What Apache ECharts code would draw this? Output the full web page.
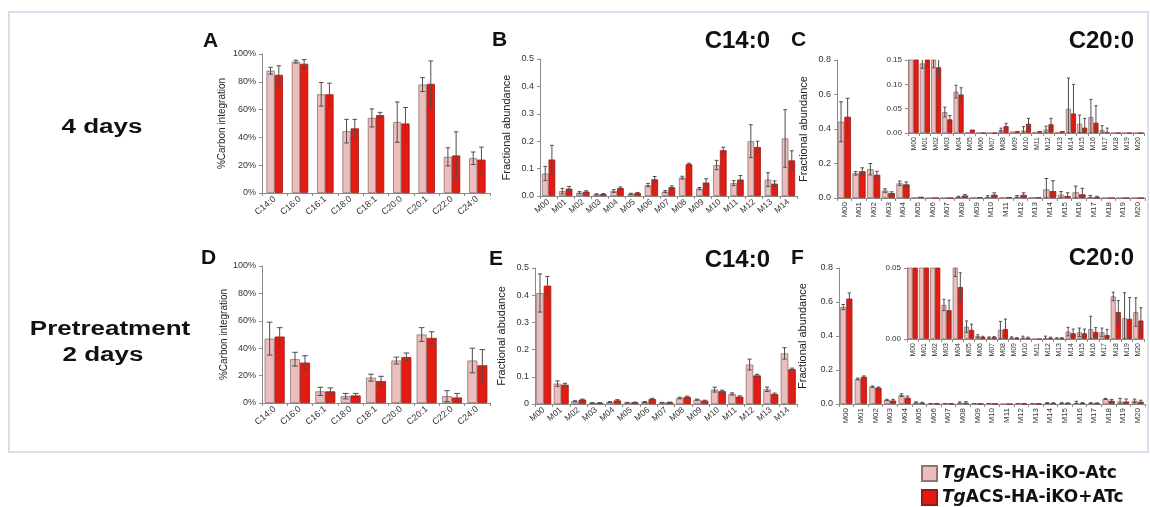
<!DOCTYPE html>
<html>
<head>
<meta charset="utf-8">
<script src="https://cdn.jsdelivr.net/npm/echarts@6/dist/echarts.min.js"></script>
<style>
  html, body { margin: 0; padding: 0; background: #fff; }
  #chart { width: 1150px; height: 507px; }
</style>
</head>
<body>
<div id="chart"></div>
<script>
// categories
const fattyAcids = ["C14:0", "C16:0", "C16:1", "C18:0", "C18:1", "C20:0", "C20:1", "C22:0", "C24:0"];
const isoC14 = ["M00", "M01", "M02", "M03", "M04", "M05", "M06", "M07", "M08", "M09", "M10", "M11", "M12", "M13", "M14"];
const isoC20 = ["M00", "M01", "M02", "M03", "M04", "M05", "M06", "M07", "M08", "M09", "M10",
	"M11", "M12", "M13", "M14", "M15", "M16", "M17", "M18", "M19", "M20"];

// A - 4 days, % carbon integration
const aMinus = [88, 94.5, 71, 44.5, 54, 51, 78, 26, 25];
const aMinusErr = [2.5, 1, 8.5, 8.5, 6.5, 14.5, 5, 6.5, 4.5];
const aPlus = [85, 93, 71, 46.5, 56, 50, 78.5, 27, 24];
const aPlusErr = [6.5, 3, 8, 6.5, 2, 11.5, 16.5, 17, 9];

// B - 4 days, C14:0 isotopologues
const bMinus = [0.082, 0.018, 0.012, 0.006, 0.018, 0.008, 0.04, 0.016, 0.067, 0.027, 0.113, 0.047, 0.2, 0.06, 0.21];
const bMinusErr = [0.026, 0.01, 0.004, 0.002, 0.005, 0.002, 0.006, 0.004, 0.005, 0.004, 0.017, 0.009, 0.06, 0.025, 0.105];
const bPlus = [0.133, 0.027, 0.016, 0.007, 0.029, 0.011, 0.061, 0.032, 0.116, 0.049, 0.167, 0.06, 0.179, 0.045, 0.13];
const bPlusErr = [0.052, 0.008, 0.003, 0.002, 0.004, 0.002, 0.01, 0.005, 0.004, 0.014, 0.011, 0.015, 0.021, 0.01, 0.035];

// C - 4 days, C20:0 isotopologues (inset shows the same values, zoomed)
const cMinus = [0.442, 0.143, 0.167, 0.043, 0.085, 0.001, 0, 0, 0.006, 0.003, 0.005, 0.002, 0.007, 0.002, 0.05, 0.019, 0.033, 0.006, 0, 0, 0];
const cMinusErr = [0.116, 0.01, 0.033, 0.01, 0.013, 0, 0, 0, 0.004, 0, 0.008, 0, 0.007, 0, 0.063, 0.018, 0.036, 0.009, 0, 0, 0];
const cPlus = [0.471, 0.155, 0.135, 0.028, 0.079, 0.007, 0, 0, 0.014, 0.004, 0.019, 0.004, 0.018, 0.004, 0.04, 0.011, 0.021, 0.002, 0, 0, 0];
const cPlusErr = [0.107, 0.02, 0.02, 0.008, 0.014, 0, 0, 0, 0.006, 0, 0.011, 0, 0.012, 0, 0.06, 0.019, 0.035, 0.008, 0, 0, 0];

// D - pretreatment 2 days, % carbon integration
const dMinus = [47, 32, 8.5, 5, 18.5, 31, 50, 5, 31];
const dMinusErr = [12, 5, 3, 2, 2.5, 2.5, 5, 4, 9];
const dPlus = [48.5, 29.5, 8.5, 5.5, 16, 33.5, 47.5, 4, 27.5];
const dPlusErr = [6.5, 5, 2.5, 1.5, 3.5, 3, 4.5, 3, 11.5];

// E - pretreatment 2 days, C14:0 isotopologues
const eMinus = [0.408, 0.075, 0.01, 0.004, 0.007, 0.005, 0.007, 0.005, 0.022, 0.016, 0.053, 0.037, 0.145, 0.054, 0.186];
const eMinusErr = [0.07, 0.01, 0.002, 0.001, 0.002, 0.001, 0.002, 0.001, 0.003, 0.002, 0.009, 0.004, 0.02, 0.008, 0.021];
const ePlus = [0.435, 0.071, 0.016, 0.004, 0.013, 0.006, 0.018, 0.006, 0.026, 0.012, 0.047, 0.027, 0.105, 0.036, 0.128];
const ePlusErr = [0.034, 0.005, 0.002, 0.001, 0.003, 0.001, 0.003, 0.001, 0.003, 0.002, 0.004, 0.003, 0.004, 0.004, 0.004];

// F - pretreatment 2 days, C20:0 isotopologues
const fMinus = [0.57, 0.147, 0.102, 0.024, 0.052, 0.0087, 0.002, 0.001, 0.0064, 0.001, 0.001, 0, 0.0005, 0.0004, 0.0052, 0.0047, 0.007, 0.0047, 0.03, 0.0146, 0.019];
const fMinusErr = [0.015, 0.005, 0.004, 0.004, 0.008, 0.004, 0.001, 0.0005, 0.006, 0.0005, 0.001, 0, 0.0015, 0.0005, 0.003, 0.003, 0.009, 0.003, 0.003, 0.018, 0.01];
const fPlus = [0.62, 0.16, 0.096, 0.0203, 0.0366, 0.0064, 0.0014, 0.0012, 0.007, 0.0005, 0.0008, 0, 0.0008, 0.0004, 0.004, 0.004, 0.005, 0.0028, 0.019, 0.0142, 0.013];
const fPlusErr = [0.033, 0.005, 0.004, 0.007, 0.01, 0.004, 0.0005, 0.0005, 0.007, 0.0005, 0.0005, 0, 0.0005, 0.0005, 0.003, 0.003, 0.003, 0.004, 0.008, 0.015, 0.009];

const nameMinus = "TgACS-HA-iKO-Atc";
const namePlus = "TgACS-HA-iKO+ATc";
const pink = "#ebbdbd";
const red = "#e41b10";
const font = "Liberation Sans, Arial, sans-serif";

const chart = echarts.init(document.getElementById("chart"));

// grids: A, B, C, C inset, D, E, F, F inset
const grids = [
	{left: 262, top: 54, width: 228, height: 139},
	{left: 540, top: 59, width: 257, height: 137},
	{left: 837, top: 60, width: 308, height: 138},
	{left: 908, top: 60, width: 236, height: 73},
	{left: 262, top: 266, width: 228, height: 137},
	{left: 535, top: 268, width: 262, height: 136},
	{left: 839, top: 268, width: 306, height: 136},
	{left: 907, top: 268, width: 237, height: 71},
].map((g) => ({...g, containLabel: false, outerBoundsMode: "none"}));

const axisLine = {show: true, lineStyle: {color: "#8a8a8a", width: 1}};
const axisTick = {show: true, length: 3, lineStyle: {color: "#8a8a8a"}};

function xAx(gridIndex, data, rotate, fontSize, margin) {
	return {
		type: "category", gridIndex, data,
		axisLine, axisTick,
		axisLabel: {interval: 0, rotate, fontSize, margin, color: "#333", fontFamily: font},
		splitLine: {show: false},
	};
}

function yAx(gridIndex, max, interval, fmt, fontSize, name, nameGap, nameSize) {
	return {
		type: "value", gridIndex, min: 0, max, interval,
		axisLine, axisTick,
		axisLabel: {fontSize, color: "#333", fontFamily: font, margin: 6, formatter: fmt},
		splitLine: {show: false},
		name, nameLocation: "middle", nameGap,
		nameTextStyle: {fontSize: nameSize, color: "#222", fontFamily: font},
	};
}

const pct = (v) => v + "%";
const d1 = (v) => v.toFixed(1);
const d2 = (v) => v.toFixed(2);

const xAxis = [
	xAx(0, fattyAcids, 40, 9, 5),
	xAx(1, isoC14, 40, 8.5, 5),
	xAx(2, isoC20, 90, 8, 4),
	xAx(3, isoC20, 90, 7, 4),
	xAx(4, fattyAcids, 40, 9, 5),
	xAx(5, isoC14, 40, 8.5, 5),
	xAx(6, isoC20, 90, 8, 4),
	xAx(7, isoC20, 90, 7, 4),
];

const yAxis = [
	yAx(0, 100, 20, pct, 9, "%Carbon integration", 35, 10),
	yAx(1, 0.5, 0.1, d1, 9, "Fractional abundance", 28, 11),
	yAx(2, 0.8, 0.2, d1, 9, "Fractional abundance", 28, 11),
	yAx(3, 0.15, 0.05, d2, 8, "", 0, 8),
	yAx(4, 100, 20, pct, 9, "%Carbon integration", 33, 10),
	yAx(5, 0.5, 0.1, null, 9, "Fractional abudance", 28, 11),
	yAx(6, 0.8, 0.2, d1, 9, "Fractional abundance", 31, 11),
	yAx(7, 0.05, 0.05, d2, 8, "", 0, 8),
];

// error bar drawn on top of one of the two bars in a category
function errorBars(idx, values, errors, side, gap) {
	return {
		type: "custom",
		name: "err",
		xAxisIndex: idx, yAxisIndex: idx,
		clip: true, z: 3, silent: true,
		data: values.map((v, i) => [i, v, errors[i]]),
		encode: {x: 0, y: 1},
		renderItem: (params, api) => {
			const i = api.value(0);
			const v = api.value(1);
			const e = api.value(2);
			if (!e) return {type: "group", children: []};
			const band = api.size([1, 0])[0];
			const bw = (band * (1 - gap)) / 2;
			const cx = api.coord([i, 0])[0] + (side * bw) / 2;
			const top = api.coord([i, v + e])[1];
			const bot = api.coord([i, Math.max(v - e, 0)])[1];
			const cap = Math.max(bw * 0.28, 1.5);
			const st = {stroke: "#4d4d4d", lineWidth: 1};
			return {
				type: "group",
				children: [
					{type: "line", shape: {x1: cx, y1: top, x2: cx, y2: bot}, style: st},
					{type: "line", shape: {x1: cx - cap, y1: top, x2: cx + cap, y2: top}, style: st},
					{type: "line", shape: {x1: cx - cap, y1: bot, x2: cx + cap, y2: bot}, style: st},
				],
			};
		},
	};
}

function panel(idx, minus, minusErr, plus, plusErr, gap) {
	const common = {
		type: "bar", xAxisIndex: idx, yAxisIndex: idx,
		barGap: "0%", barCategoryGap: gap * 100 + "%",
		clip: true, silent: true,
	};
	return [
		{...common, name: nameMinus, data: minus, itemStyle: {color: pink, borderColor: "#8f7474", borderWidth: 0.8}},
		{...common, name: namePlus, data: plus, itemStyle: {color: red, borderColor: "#9a1a12", borderWidth: 0.8}},
		errorBars(idx, minus, minusErr, -1, gap),
		errorBars(idx, plus, plusErr, 1, gap),
	];
}

const series = [
	...panel(0, aMinus, aMinusErr, aPlus, aPlusErr, 0.35),
	...panel(1, bMinus, bMinusErr, bPlus, bPlusErr, 0.22),
	...panel(2, cMinus, cMinusErr, cPlus, cPlusErr, 0.1),
	...panel(3, cMinus, cMinusErr, cPlus, cPlusErr, 0.1),
	...panel(4, dMinus, dMinusErr, dPlus, dPlusErr, 0.21),
	...panel(5, eMinus, eMinusErr, ePlus, ePlusErr, 0.14),
	...panel(6, fMinus, fMinusErr, fPlus, fPlusErr, 0.16),
	...panel(7, fMinus, fMinusErr, fPlus, fPlusErr, 0.1),
];

function label(text, x, y, size, align, scaleX) {
	return {
		type: "text", x, y, scaleX: scaleX || 1, silent: true,
		style: {
			text, fill: "#111", fontSize: size, fontWeight: "bold", fontFamily: font,
			textAlign: align, textVerticalAlign: "middle", align, verticalAlign: "middle",
		},
	};
}

const graphic = [
	{
		type: "rect", silent: true, z: -1,
		shape: {x: 9, y: 12, width: 1139, height: 440},
		style: {fill: "none", stroke: "#c9d8ea", lineWidth: 1.5},
	},
	label("4 days", 102, 127, 20, "center", 1.3),
	label("Pretreatment", 110, 329, 20, "center", 1.3),
	label("2 days", 103, 355, 20, "center", 1.3),
	label("A", 203, 41, 21, "left"),
	label("B", 492, 40, 21, "left"),
	label("C", 791, 40, 21, "left"),
	label("D", 201, 258, 21, "left"),
	label("E", 489, 259, 21, "left"),
	label("F", 791, 258, 21, "left"),
	label("C14:0", 770, 41, 24, "right"),
	label("C20:0", 1134, 41, 24, "right"),
	label("C14:0", 770, 260, 24, "right"),
	label("C20:0", 1134, 258, 24, "right"),
];

const legendText = {fontSize: 17, lineHeight: 17, fontWeight: "bold", color: "#111", fontFamily: "DejaVu Sans"};

const options = {
	animation: false,
	textStyle: {fontFamily: font},
	grid: grids,
	xAxis,
	yAxis,
	series,
	graphic,
	legend: {
		data: [nameMinus, namePlus],
		orient: "vertical",
		left: 921, top: 465,
		height: 42,
		padding: 0,
		itemWidth: 15, itemHeight: 15, itemGap: 7,
		icon: "rect",
		selectedMode: false,
		formatter: (name) => "{i|Tg}{n|" + name.slice(2) + "}",
		textStyle: {
			...legendText,
			rich: {
				i: {...legendText, fontStyle: "italic"},
				n: {...legendText},
			},
		},
	},
};

chart.setOption(options);
</script>
</body>
</html>
